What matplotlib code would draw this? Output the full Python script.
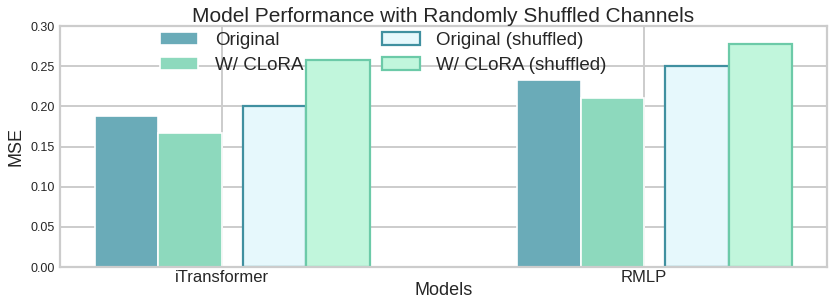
import numpy as np
import matplotlib.pyplot as plt

# данные
models = ["iTransformer", "RMLP"]
original = [0.188, 0.233]
clora = [0.167, 0.211]
original_shuffled = [0.200, 0.250]
clora_shuffled = [0.258, 0.277]

plt.style.use("seaborn-v0_8-whitegrid")
plt.rcParams["font.family"] = ["Liberation Sans", "DejaVu Sans"]

fig = plt.figure(figsize=(8.31, 2.99), dpi=100)
ax = fig.add_axes([0.0722, 0.107, 0.923, 0.806])

x = np.arange(len(models))
w = 0.15

ax.bar(x - 1.5 * w, original, w, color="#6aabb8", edgecolor="white", linewidth=1.2, label="Original", zorder=2)
ax.bar(x - 0.5 * w, clora, w, color="#8dd9bd", edgecolor="white", linewidth=1.2, label="W/ CLoRA", zorder=2)
ax.bar(x + 0.5 * w + 0.05, original_shuffled, w, color="#e6f8fc", edgecolor="#4090a0", linewidth=1.6,
       label="Original (shuffled)", zorder=2)
ax.bar(x + 1.5 * w + 0.05, clora_shuffled, w, color="#c1f6dc", edgecolor="#6ccaa8", linewidth=1.6,
       label="W/ CLoRA (shuffled)", zorder=2)

ax.set_ylim(0, 0.30)
ax.set_yticks(np.arange(0, 0.31, 0.05))
ax.yaxis.set_major_formatter(plt.FormatStrFormatter("%.2f"))
ax.set_xticks(x)
ax.set_xticklabels(models, fontsize=12)
ax.tick_params(axis="y", labelsize=9, length=0, pad=4)
ax.tick_params(axis="x", length=0, pad=2)
ax.grid(True, color="#cccccc", linewidth=1.4, zorder=0)
for s in ax.spines.values():
    s.set_color("#cccccc")
    s.set_linewidth(1.6)

ax.set_xlabel("Models", fontsize=13, labelpad=-2)
ax.set_ylabel("MSE", fontsize=13, labelpad=4)
ax.set_title("Model Performance with Randomly Shuffled Channels", fontsize=15, pad=2, color="#262626")

ax.legend(ncol=2, loc="upper left", bbox_to_anchor=(0.109, 1.045), frameon=False,
          fontsize=13.5, columnspacing=4.2, handletextpad=0.9, labelspacing=0.42)

plt.savefig("out.png", dpi=100)
